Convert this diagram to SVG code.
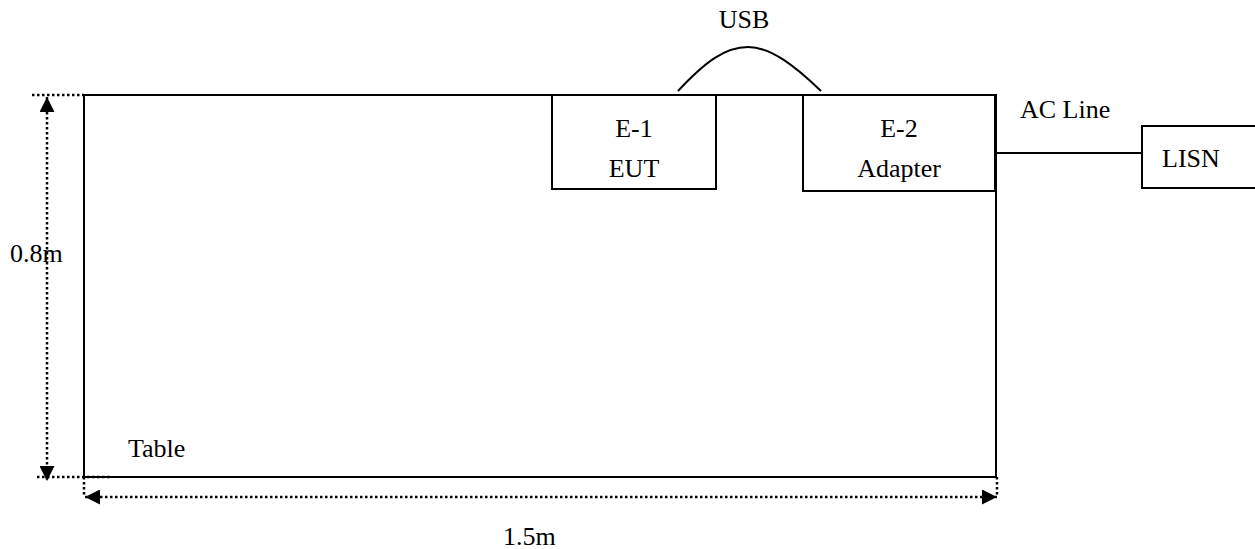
<svg xmlns="http://www.w3.org/2000/svg" width="1255" height="549" viewBox="0 0 1255 549">
<style>
text{font-family:"Liberation Serif","Times New Roman",serif;font-size:26px;fill:#000}
.box{fill:#fff;stroke:#000;stroke-width:2}
.line{fill:none;stroke:#000;stroke-width:2}
.dot{fill:none;stroke:#000;stroke-width:2.5;stroke-dasharray:2.5,2.5}
</style>
<defs>
<marker id="ah" viewBox="0 0 10 10" refX="10" refY="5" markerWidth="6" markerHeight="6" orient="auto-start-reverse" markerUnits="strokeWidth">
<path d="M0,0 L10,5 L0,10 z" fill="#000"/>
</marker>
</defs>
<rect width="1255" height="549" fill="#fff"/>
<g id="table">
<rect class="box" x="84" y="95" width="912" height="382"/>
<text x="128" y="457">Table</text>
</g>
<g id="e1">
<rect class="box" x="552" y="95" width="164" height="94"/>
<text x="634" y="137" text-anchor="middle">E-1</text>
<text x="634" y="177" text-anchor="middle">EUT</text>
</g>
<g id="e2">
<rect class="box" x="803" y="95" width="192" height="96"/>
<text x="899" y="137" text-anchor="middle">E-2</text>
<text x="899" y="177" text-anchor="middle">Adapter</text>
</g>
<g id="lisn">
<rect class="box" x="1142" y="126" width="130" height="62"/>
<text x="1162" y="167">LISN</text>
</g>
<g id="connectors">
<path class="line" d="M678,91 C705,62 725,47 748,47 C771,47 795,66 821,91"/>
<text x="744" y="28" text-anchor="middle">USB</text>
<line class="line" x1="995" y1="153" x2="1142" y2="153"/>
<text x="1020" y="118">AC Line</text>
</g>
<g id="dimensions">
<line class="dot" x1="32" y1="95" x2="84" y2="95"/>
<line class="dot" x1="37" y1="477" x2="110" y2="477"/>
<line class="dot" x1="84" y1="477" x2="84" y2="497"/>
<line class="dot" x1="997" y1="477" x2="997" y2="497"/>
<line class="dot" x1="47" y1="97" x2="47" y2="481" marker-start="url(#ah)" marker-end="url(#ah)"/>
<line class="dot" x1="85" y1="497" x2="997" y2="497" marker-start="url(#ah)" marker-end="url(#ah)"/>
<text x="10" y="262">0.8m</text>
<text x="503" y="545">1.5m</text>
</g>
</svg>
